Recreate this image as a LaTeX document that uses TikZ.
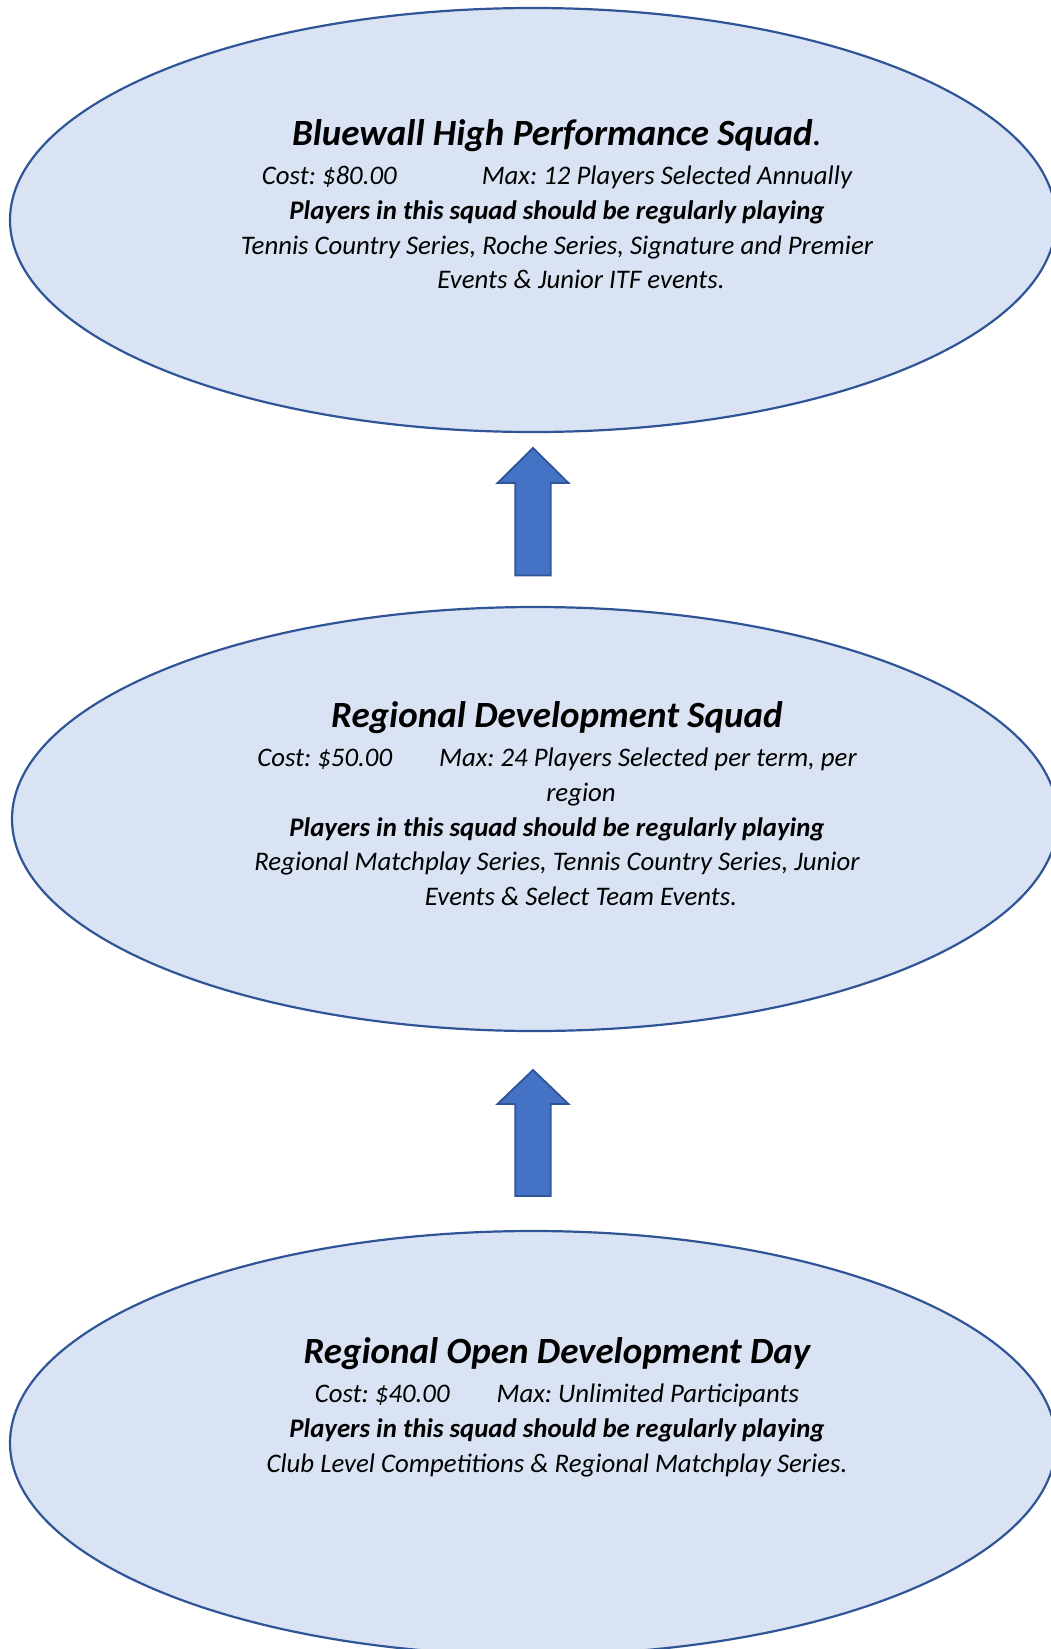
\documentclass[tikz,border=0pt]{standalone}
\usepackage{fontspec}
\setmainfont{Carlito}
\usetikzlibrary{shapes.geometric}
\frenchspacing

\definecolor{squadfill}{HTML}{DAE3F3}
\definecolor{squadline}{HTML}{2F5597}
\definecolor{arrowfill}{HTML}{4472C4}

\tikzset{
	squad/.style={ellipse, draw=squadline, fill=squadfill, line width=2.2pt,
		minimum width=1046pt, minimum height=424pt, inner sep=0pt},
	info/.style={align=center, anchor=north, inner sep=0pt,
		font=\fontsize{26.8}{34.7}\selectfont\itshape},
	uparrow/.style={draw=squadline, fill=arrowfill, line width=1.8pt, line join=miter}
}
\newcommand{\squadtitle}[1]{{\fontsize{37}{42}\selectfont\bfseries #1}}

\begin{document}
\begin{tikzpicture}[x=1pt, y=-1pt]
			\useasboundingbox (0,0) rectangle (1051,1649);
			\clip (0,0) rectangle (1051,1649);

			\node[squad] (hps) at (533,220) {};
			\node[squad] (rds) at (535,819) {};
			\node[squad] (rodd) at (533,1443) {};

			% block arrows, drawn from their tips
			\coordinate (arrowA) at (533,448);
			\coordinate (arrowB) at (533,1070);
			\draw[uparrow] (arrowA) -- ++(35.5,35) -- ++(-17.75,0) -- ++(0,92.5)
				-- ++(-35.5,0) -- ++(0,-92.5) -- ++(-17.75,0) -- cycle;
			\draw[uparrow] (arrowB) -- ++(35.5,34) -- ++(-17.75,0) -- ++(0,92)
				-- ++(-35.5,0) -- ++(0,-92) -- ++(-17.75,0) -- cycle;

			\node[info] (hpsText) at (557,119) {
				\squadtitle{Bluewall High Performance Squad\textmd{.}}\\[5pt]
				Cost: \$80.00\hspace{85pt}Max: 12 Players Selected Annually\\
				\textbf{Players in this squad should be regularly playing}\\
				Tennis Country Series, Roche Series, Signature and Premier\\
				\hspace*{48pt}Events \& Junior ITF events.};

			\node[info] (rdsText) at (557,701) {
				\squadtitle{Regional Development Squad}\\[5pt]
				Cost: \$50.00\hspace{47pt}Max: 24 Players Selected per term, per\\
				\hspace*{48pt}region\\
				\textbf{Players in this squad should be regularly playing}\\
				Regional Matchplay Series, Tennis Country Series, Junior\\
				\hspace*{48pt}Events \& Select Team Events.};

			\node[info] (roddText) at (557,1337) {
				\squadtitle{Regional Open Development Day}\\[5pt]
				Cost: \$40.00\hspace{47pt}Max: Unlimited Participants\\
				\textbf{Players in this squad should be regularly playing}\\
				Club Level Competitions \& Regional Matchplay Series.};
		\end{tikzpicture}
\end{document}
